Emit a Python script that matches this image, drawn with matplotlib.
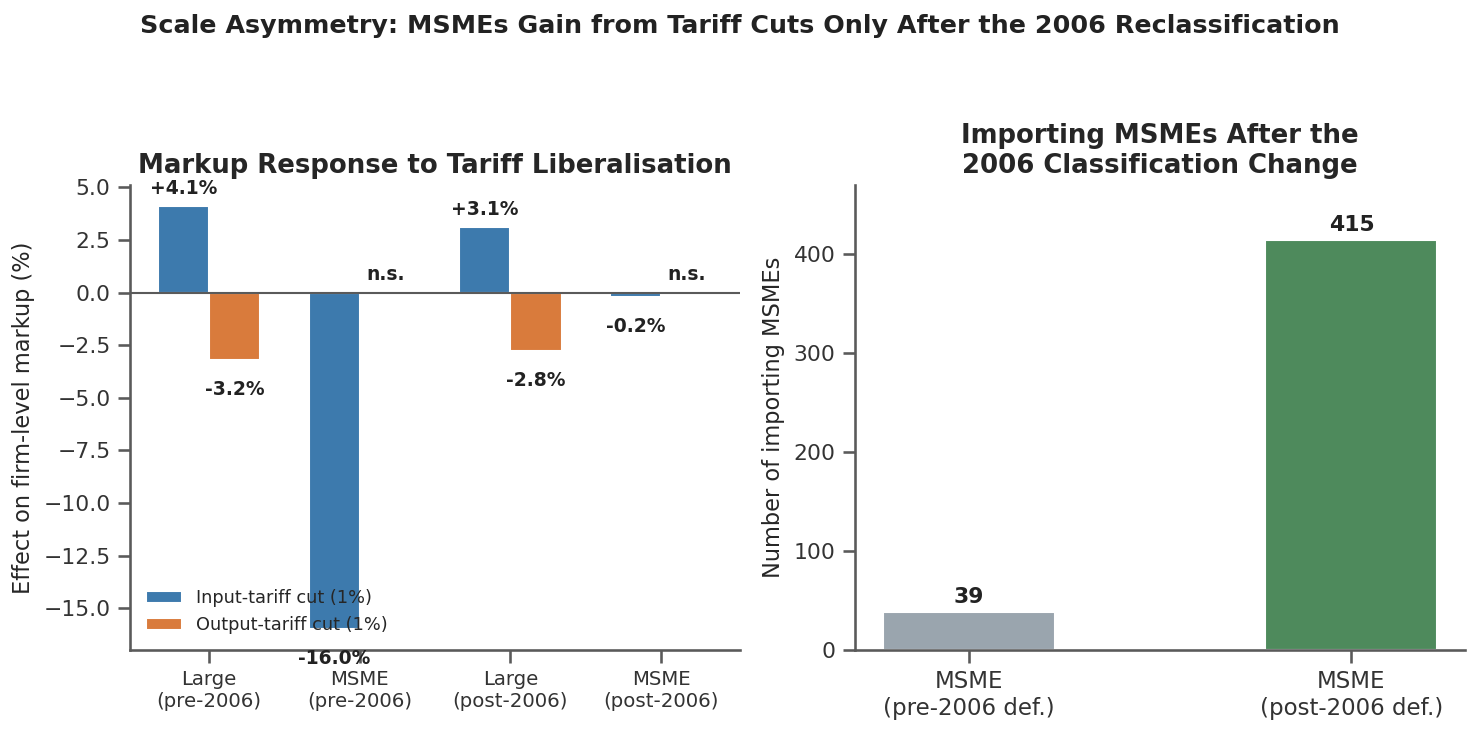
import matplotlib
matplotlib.use("Agg")
import matplotlib.pyplot as plt
import seaborn as sns
import numpy as np

sns.set_theme(style="ticks", context="notebook")
plt.rcParams['font.family'] = ['DejaVu Sans']

# data
groups = ["Large\n(pre-2006)", "MSME\n(pre-2006)", "Large\n(post-2006)", "MSME\n(post-2006)"]
input_eff = [4.1, -16.0, 3.1, -0.2]
output_eff = [-3.2, np.nan, -2.8, np.nan]
input_lbl = ["+4.1%", "-16.0%", "+3.1%", "-0.2%"]
output_lbl = ["-3.2%", "n.s.", "-2.8%", "n.s."]

msme_cats = ["MSME\n(pre-2006 def.)", "MSME\n(post-2006 def.)"]
msme_counts = [39, 415]

blue = "#3d7aad"
orange = "#d97b3c"
grey = "#9aa5ae"
green = "#4e8a5c"
axcol = "#5a5a5a"

fig, (ax1, ax2) = plt.subplots(1, 2, figsize=(1480/150, 729/150), dpi=150)
fig.subplots_adjust(left=0.088, right=0.99, bottom=0.108, top=0.746, wspace=0.189)

x = np.arange(len(groups))
w = 0.34
ax1.bar(x - w/2, input_eff, w, color=blue, label="Input-tariff cut (1%)")
ax1.bar(x + w/2, np.nan_to_num(output_eff), w, color=orange, label="Output-tariff cut (1%)")
ax1.axhline(0, color=axcol, lw=1)

for i in range(len(groups)):
    v = input_eff[i]
    if v >= 0:
        ax1.text(x[i] - w/2, v + 0.4, input_lbl[i], ha="center", va="bottom",
                 fontsize=9, fontweight="bold", color="#222222")
    else:
        ax1.text(x[i] - w/2, v - 0.95, input_lbl[i], ha="center", va="top",
                 fontsize=9, fontweight="bold", color="#222222")
    o = output_eff[i]
    if np.isnan(o):
        ax1.text(x[i] + w/2, 0.4, output_lbl[i], ha="center", va="bottom",
                 fontsize=9, fontweight="bold", color="#222222")
    else:
        ax1.text(x[i] + w/2, o - 0.95, output_lbl[i], ha="center", va="top",
                 fontsize=9, fontweight="bold", color="#222222")

ax1.set_xticks(x)
ax1.set_xticklabels(groups, fontsize=9.5)
ax1.set_ylabel("Effect on firm-level markup (%)", fontsize=10.8)
ax1.set_title("Markup Response to Tariff Liberalisation", fontsize=12.5, fontweight="bold")
ax1.legend(loc="lower left", frameon=False, fontsize=8.5)
sns.despine(ax=ax1)

xx = np.arange(len(msme_cats))
ax2.bar(xx, msme_counts, 0.45, color=[grey, green])
for i, v in enumerate(msme_counts):
    ax2.text(xx[i], v + 5, str(v), ha="center", va="bottom", fontsize=10.5,
             fontweight="bold", color="#222222")
ax2.set_xticks(xx)
ax2.set_xticklabels(msme_cats, fontsize=11)
ax2.set_ylim(0, 470)
ax2.set_ylabel("Number of importing MSMEs", fontsize=10.8)
ax2.set_title("Importing MSMEs After the\n2006 Classification Change", fontsize=12.5, fontweight="bold")
sns.despine(ax=ax2)

for ax in (ax1, ax2):
    for s in ("left", "bottom"):
        ax.spines[s].set_color(axcol)
    ax.tick_params(colors=axcol, labelcolor="#333333")
    ax.tick_params(axis="y", labelsize=10.5)

fig.suptitle("Scale Asymmetry: MSMEs Gain from Tariff Cuts Only After the 2006 Reclassification",
             fontsize=12.2, fontweight="bold", y=0.981, color="#222222")

fig.savefig("out.png", dpi=150)
